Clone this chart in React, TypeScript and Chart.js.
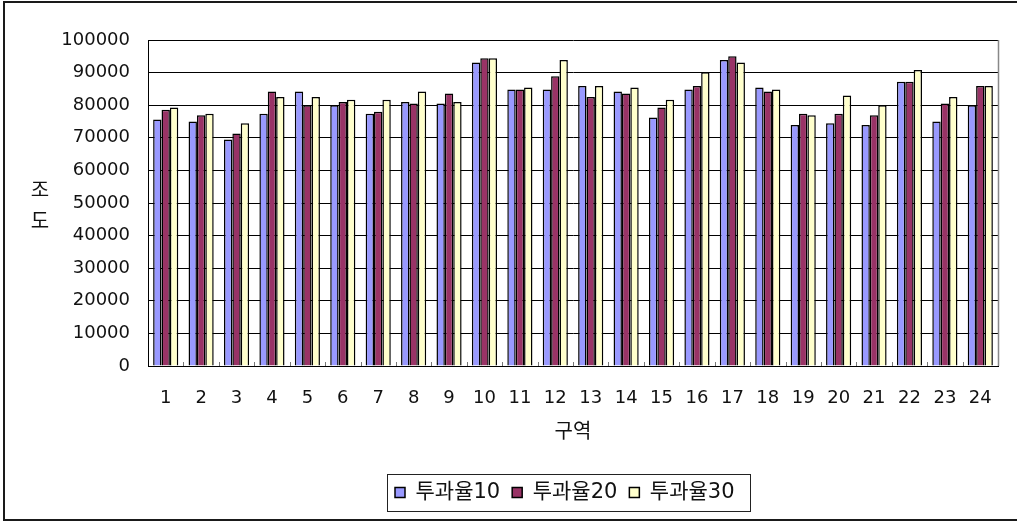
import React, { useEffect, useRef } from "react";
import { Chart, registerables } from "chart.js";

Chart.register(...registerables);

const categories = ["1", "2", "3", "4", "5", "6", "7", "8", "9", "10", "11", "12", "13", "14", "15", "16", "17", "18", "19", "20", "21", "22", "23", "24"];
const seriesNames = ["투과율10", "투과율20", "투과율30"];
const rate10 = [75600, 75000, 69500, 77400, 84200, 80000, 77400, 81000, 80500, 93100, 84800, 84800, 85900, 84200, 76200, 84800, 93900, 85400, 73900, 74500, 73900, 87200, 75000, 80000];
const rate20 = [78600, 76900, 71300, 84200, 80000, 81000, 78000, 80500, 83600, 94400, 84800, 88900, 82500, 83600, 79300, 85900, 95000, 84200, 77400, 77400, 76900, 87200, 80500, 85900];
const rate30 = [79300, 77400, 74500, 82500, 82500, 81700, 81700, 84200, 81000, 94400, 85400, 93900, 85900, 85400, 81700, 90100, 93100, 84800, 76900, 83000, 80000, 90800, 82500, 85900];
const yTitleChars = ["조", "도"];
const xTitle = "구역";
const yMin = 0;
const yMax = 100000;
const yStep = 10000;

const FAMILY = "'DejaVu Sans', 'Noto Sans CJK KR', sans-serif";
const TEXT = "#111";
const LEGEND_PAD = 12;
const LEGEND_ROW_START = 395;

const decorPlugin = {
  id: "decor",
  afterLayout(chart: any) {
    const lg = chart.legend;
    if (!lg || !lg.lineWidths) return;
    const lw = lg.lineWidths[0];
    const rowStart = (lg.left + LEGEND_PAD + lg.right - lw) / 2;
    const dx = LEGEND_ROW_START - rowStart;
    lg.left += dx;
    lg.right += dx;
  },
  beforeDatasetsDraw(chart: any) {
    const { ctx, chartArea } = chart;
    const xs = chart.scales.x;
    const n = categories.length;
    const w = (xs.right - xs.left) / n;
    ctx.save();
    ctx.strokeStyle = "#777";
    ctx.lineWidth = 1;
    for (let i = 1; i < n; i++) {
      const x = Math.round(xs.left + i * w) + 0.5;
      ctx.beginPath();
      ctx.moveTo(x, chartArea.bottom - 4);
      ctx.lineTo(x, chartArea.bottom);
      ctx.stroke();
    }
    ctx.restore();
  },
  afterDraw(chart: any) {
    const { ctx, chartArea } = chart;
    ctx.save();
    // right border of plot area
    ctx.strokeStyle = "#888";
    ctx.lineWidth = 1.5;
    ctx.beginPath();
    ctx.moveTo(chartArea.right + 0.5, chartArea.top);
    ctx.lineTo(chartArea.right + 0.5, chartArea.bottom);
    ctx.stroke();
    // y title, stacked characters
    ctx.fillStyle = TEXT;
    ctx.font = "20px 'Noto Sans CJK KR', sans-serif";
    ctx.textAlign = "center";
    ctx.textBaseline = "middle";
    yTitleChars.forEach((c, i) => {
      ctx.fillText(c, 40, 189 + i * 31);
    });
    // legend frame
    const lg = chart.legend;
    if (lg && lg.lineWidths) {
      const lw = lg.lineWidths[0];
      const rowStart = (lg.left + LEGEND_PAD + lg.right - lw) / 2;
      const left = rowStart - 8;
      const right = rowStart + lw - LEGEND_PAD + 15;
      ctx.strokeStyle = "#222";
      ctx.lineWidth = 1;
      ctx.strokeRect(Math.round(left) + 0.5, Math.round(lg.top) + 4.5, Math.round(right - left), 37);
    }
    ctx.restore();
  },
};

export default function App() {
  const ref = useRef<HTMLCanvasElement>(null);
  useEffect(() => {
    const font = { family: FAMILY, size: 18 };
    const chart = new Chart(ref.current!, {
      type: "bar",
      data: {
        labels: categories,
        datasets: [
          { label: seriesNames[0], data: rate10, backgroundColor: "#9999FF", borderColor: "#000", borderWidth: 1.5 },
          { label: seriesNames[1], data: rate20, backgroundColor: "#993366", borderColor: "#000", borderWidth: 1.5 },
          { label: seriesNames[2], data: rate30, backgroundColor: "#FFFFCC", borderColor: "#000", borderWidth: 1.5 },
        ],
      },
      options: {
        responsive: false,
        animation: false,
        devicePixelRatio: 1,
        layout: { padding: { left: 20, right: 19, top: 40, bottom: 9 } },
        datasets: { bar: { categoryPercentage: 0.71, barPercentage: 1 } },
        scales: {
          x: {
            grid: { display: false, drawTicks: false },
            border: { display: true, color: "#000", width: 1 },
            ticks: { font, color: TEXT, padding: 22, maxRotation: 0, autoSkip: false },
            title: { display: true, text: xTitle, font: { family: FAMILY, size: 20 }, color: TEXT, padding: { top: 0, bottom: 25 } },
            afterFit: (s: any) => { s.height = 104; },
          },
          y: {
            min: yMin,
            max: yMax,
            ticks: { stepSize: yStep, font, color: TEXT, padding: 18, callback: (v: any) => String(v) },
            grid: { color: "#000", lineWidth: 1, drawTicks: false },
            border: { display: true, color: "#000", width: 1 },
            afterFit: (s: any) => { s.width = 128; },
          },
        },
        plugins: {
          legend: {
            position: "bottom",
            labels: { boxWidth: 10, boxHeight: 10, padding: LEGEND_PAD, font: { family: FAMILY, size: 21 }, color: TEXT },
          },
          tooltip: { enabled: false },
        },
      },
      plugins: [decorPlugin],
    } as any);
    return () => chart.destroy();
  }, []);
  return (
    <div style={{ position: "fixed", left: 0, top: 0, width: 1017, height: 522, overflow: "hidden", background: "#fff" }}>
      <canvas ref={ref} width={1017} height={522} style={{ display: "block", width: 1017, height: 522 }} />
      <div style={{ position: "absolute", left: 3, top: 1, width: 1040, height: 520, boxSizing: "border-box", border: "2px solid #1a1a1a", pointerEvents: "none" }} />
    </div>
  );
}
